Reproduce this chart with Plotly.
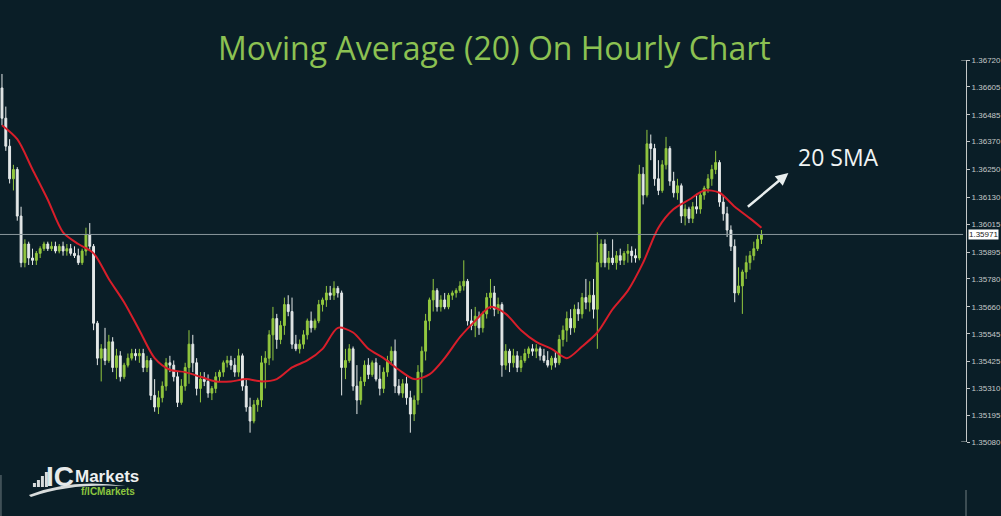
import plotly.graph_objects as go

# hourly candles (index = bar number), prices
hour = list(range(200))

open_ = [
    1.3660, 1.3647, 1.3635, 1.3621, 1.3625, 1.3605, 1.3585, 1.3593, 1.3587, 1.3586,
    1.3589, 1.3591, 1.3593, 1.3591, 1.3592, 1.3590, 1.3592, 1.3590, 1.3591, 1.3589,
    1.3588, 1.3585, 1.3590, 1.3597, 1.3592, 1.3559, 1.3544, 1.3548, 1.3543, 1.3551,
    1.3540, 1.3545, 1.3536, 1.3541, 1.3544, 1.3546, 1.3545, 1.3546, 1.3540, 1.3543,
    1.3528, 1.3523, 1.3527, 1.3532, 1.3542, 1.3541, 1.3536, 1.3525, 1.3532, 1.3540,
    1.3550, 1.3542, 1.3531, 1.3535, 1.3534, 1.3529, 1.3531, 1.3536, 1.3538, 1.3542,
    1.3543, 1.3541, 1.3538, 1.3545, 1.3532, 1.3523, 1.3517, 1.3524, 1.3526, 1.3542,
    1.3544, 1.3554, 1.3561, 1.3552, 1.3558, 1.3567, 1.3564, 1.3550, 1.3548, 1.3550,
    1.3554, 1.3560, 1.3557, 1.3560, 1.3567, 1.3569, 1.3572, 1.3571, 1.3574, 1.3572,
    1.3540, 1.3543, 1.3548, 1.3532, 1.3526, 1.3534, 1.3541, 1.3537, 1.3542, 1.3535,
    1.3531, 1.3538, 1.3543, 1.3547, 1.3532, 1.3529, 1.3533, 1.3527, 1.3520, 1.3526,
    1.3538, 1.3547, 1.3560, 1.3569, 1.3573, 1.3566, 1.3569, 1.3566, 1.3571, 1.3572,
    1.3573, 1.3575, 1.3577, 1.3560, 1.3558, 1.3562, 1.3557, 1.3563, 1.3570, 1.3572,
    1.3565, 1.3567, 1.3541, 1.3547, 1.3542, 1.3545, 1.3540, 1.3543, 1.3546, 1.3548,
    1.3547, 1.3548, 1.3545, 1.3543, 1.3541, 1.3544, 1.3542, 1.3552, 1.3556, 1.3561,
    1.3557, 1.3565, 1.3563, 1.3570, 1.3568, 1.3571, 1.3565, 1.3585, 1.3593, 1.3585,
    1.3587, 1.3585, 1.3588, 1.3586, 1.3589, 1.3590, 1.3588, 1.3587, 1.3623, 1.3614,
    1.3636, 1.3634, 1.3621, 1.3616, 1.3627, 1.3634, 1.3620, 1.3615, 1.3618, 1.3605,
    1.3608, 1.3604, 1.3609, 1.3608, 1.3614, 1.3617, 1.3621, 1.3625, 1.3628, 1.3611,
    1.3606, 1.3599, 1.3592, 1.3572, 1.3575, 1.3581, 1.3585, 1.3588, 1.3591, 1.3595,
]
high = [
    1.3666, 1.3652, 1.3638, 1.3627, 1.3626, 1.3609, 1.3595, 1.3594, 1.3591, 1.3590,
    1.3592, 1.3594, 1.3594, 1.3594, 1.3594, 1.3593, 1.3594, 1.3593, 1.3593, 1.3592,
    1.3591, 1.3591, 1.3600, 1.3602, 1.3593, 1.3560, 1.3550, 1.3557, 1.3554, 1.3553,
    1.3548, 1.3547, 1.3542, 1.3546, 1.3548, 1.3548, 1.3548, 1.3548, 1.3545, 1.3544,
    1.3535, 1.3530, 1.3534, 1.3544, 1.3545, 1.3543, 1.3538, 1.3535, 1.3542, 1.3556,
    1.3554, 1.3544, 1.3538, 1.3538, 1.3537, 1.3532, 1.3538, 1.3539, 1.3543, 1.3545,
    1.3545, 1.3544, 1.3548, 1.3546, 1.3535, 1.3527, 1.3526, 1.3527, 1.3545, 1.3547,
    1.3556, 1.3566, 1.3563, 1.3560, 1.3570, 1.3571, 1.3570, 1.3554, 1.3552, 1.3556,
    1.3561, 1.3564, 1.3561, 1.3569, 1.3570, 1.3575, 1.3575, 1.3577, 1.3575, 1.3573,
    1.3548, 1.3550, 1.3549, 1.3541, 1.3536, 1.3543, 1.3544, 1.3543, 1.3544, 1.3541,
    1.3540, 1.3545, 1.3549, 1.3552, 1.3535, 1.3535, 1.3536, 1.3530, 1.3528, 1.3541,
    1.3549, 1.3563, 1.3570, 1.3578, 1.3574, 1.3571, 1.3572, 1.3572, 1.3573, 1.3574,
    1.3577, 1.3586, 1.3578, 1.3565, 1.3566, 1.3564, 1.3564, 1.3572, 1.3578, 1.3575,
    1.3570, 1.3568, 1.3550, 1.3548, 1.3548, 1.3547, 1.3545, 1.3548, 1.3549, 1.3550,
    1.3550, 1.3549, 1.3548, 1.3547, 1.3545, 1.3547, 1.3554, 1.3558, 1.3564, 1.3565,
    1.3567, 1.3568, 1.3572, 1.3578, 1.3577, 1.3578, 1.3598, 1.3595, 1.3595, 1.3590,
    1.3595, 1.3590, 1.3591, 1.3590, 1.3593, 1.3592, 1.3591, 1.3627, 1.3626, 1.3642,
    1.3640, 1.3636, 1.3629, 1.3629, 1.3639, 1.3635, 1.3624, 1.3621, 1.3619, 1.3610,
    1.3609, 1.3611, 1.3614, 1.3615, 1.3618, 1.3623, 1.3627, 1.3633, 1.3629, 1.3614,
    1.3609, 1.3601, 1.3595, 1.3583, 1.3582, 1.3588, 1.3590, 1.3594, 1.3597, 1.3599,
]
low = [
    1.3644, 1.3633, 1.3619, 1.3616, 1.3603, 1.3583, 1.3583, 1.3584, 1.3584, 1.3584,
    1.3587, 1.3590, 1.3590, 1.3590, 1.3589, 1.3589, 1.3588, 1.3588, 1.3588, 1.3587,
    1.3584, 1.3584, 1.3588, 1.3590, 1.3556, 1.3541, 1.3534, 1.3541, 1.3542, 1.3538,
    1.3535, 1.3534, 1.3535, 1.3540, 1.3543, 1.3543, 1.3542, 1.3538, 1.3538, 1.3526,
    1.3521, 1.3520, 1.3525, 1.3530, 1.3538, 1.3534, 1.3523, 1.3524, 1.3530, 1.3533,
    1.3538, 1.3528, 1.3525, 1.3532, 1.3527, 1.3526, 1.3529, 1.3534, 1.3536, 1.3540,
    1.3539, 1.3536, 1.3536, 1.3530, 1.3521, 1.3512, 1.3516, 1.3521, 1.3523, 1.3531,
    1.3541, 1.3543, 1.3548, 1.3550, 1.3554, 1.3562, 1.3548, 1.3547, 1.3546, 1.3548,
    1.3552, 1.3555, 1.3556, 1.3559, 1.3564, 1.3566, 1.3569, 1.3569, 1.3570, 1.3528,
    1.3535, 1.3542, 1.3530, 1.3520, 1.3524, 1.3532, 1.3535, 1.3536, 1.3534, 1.3528,
    1.3529, 1.3536, 1.3541, 1.3529, 1.3528, 1.3527, 1.3524, 1.3512, 1.3517, 1.3524,
    1.3529, 1.3543, 1.3556, 1.3564, 1.3564, 1.3564, 1.3565, 1.3565, 1.3569, 1.3570,
    1.3572, 1.3573, 1.3558, 1.3556, 1.3553, 1.3554, 1.3555, 1.3561, 1.3565, 1.3562,
    1.3563, 1.3536, 1.3539, 1.3538, 1.3540, 1.3538, 1.3538, 1.3542, 1.3544, 1.3545,
    1.3544, 1.3543, 1.3542, 1.3540, 1.3539, 1.3540, 1.3541, 1.3549, 1.3551, 1.3554,
    1.3555, 1.3560, 1.3561, 1.3565, 1.3564, 1.3561, 1.3548, 1.3583, 1.3583, 1.3582,
    1.3584, 1.3582, 1.3584, 1.3584, 1.3585, 1.3585, 1.3585, 1.3586, 1.3610, 1.3613,
    1.3629, 1.3618, 1.3614, 1.3615, 1.3625, 1.3618, 1.3613, 1.3612, 1.3602, 1.3601,
    1.3602, 1.3602, 1.3606, 1.3606, 1.3612, 1.3615, 1.3618, 1.3623, 1.3609, 1.3603,
    1.3596, 1.3590, 1.3568, 1.3571, 1.3563, 1.3578, 1.3582, 1.3586, 1.3590, 1.3593,
]
close = [
    1.3647, 1.3635, 1.3621, 1.3625, 1.3605, 1.3585, 1.3593, 1.3587, 1.3586, 1.3589,
    1.3591, 1.3593, 1.3591, 1.3592, 1.3590, 1.3592, 1.3590, 1.3591, 1.3589, 1.3588,
    1.3585, 1.3590, 1.3597, 1.3592, 1.3559, 1.3544, 1.3548, 1.3543, 1.3551, 1.3540,
    1.3545, 1.3536, 1.3541, 1.3544, 1.3546, 1.3545, 1.3546, 1.3540, 1.3543, 1.3528,
    1.3523, 1.3527, 1.3532, 1.3542, 1.3541, 1.3536, 1.3525, 1.3532, 1.3540, 1.3550,
    1.3542, 1.3531, 1.3535, 1.3534, 1.3529, 1.3531, 1.3536, 1.3538, 1.3542, 1.3543,
    1.3541, 1.3538, 1.3545, 1.3532, 1.3523, 1.3517, 1.3524, 1.3526, 1.3542, 1.3544,
    1.3554, 1.3561, 1.3552, 1.3558, 1.3567, 1.3564, 1.3550, 1.3548, 1.3550, 1.3554,
    1.3560, 1.3557, 1.3560, 1.3567, 1.3569, 1.3572, 1.3571, 1.3574, 1.3572, 1.3540,
    1.3543, 1.3548, 1.3532, 1.3526, 1.3534, 1.3541, 1.3537, 1.3542, 1.3535, 1.3531,
    1.3538, 1.3543, 1.3547, 1.3532, 1.3529, 1.3533, 1.3527, 1.3520, 1.3526, 1.3538,
    1.3547, 1.3560, 1.3569, 1.3573, 1.3566, 1.3569, 1.3566, 1.3571, 1.3572, 1.3573,
    1.3575, 1.3577, 1.3560, 1.3558, 1.3562, 1.3557, 1.3563, 1.3570, 1.3572, 1.3565,
    1.3567, 1.3541, 1.3547, 1.3542, 1.3545, 1.3540, 1.3543, 1.3546, 1.3548, 1.3547,
    1.3548, 1.3545, 1.3543, 1.3541, 1.3544, 1.3542, 1.3552, 1.3556, 1.3561, 1.3557,
    1.3565, 1.3563, 1.3570, 1.3568, 1.3571, 1.3565, 1.3585, 1.3593, 1.3585, 1.3587,
    1.3585, 1.3588, 1.3586, 1.3589, 1.3590, 1.3588, 1.3587, 1.3623, 1.3614, 1.3636,
    1.3634, 1.3621, 1.3616, 1.3627, 1.3634, 1.3620, 1.3615, 1.3618, 1.3605, 1.3608,
    1.3604, 1.3609, 1.3608, 1.3614, 1.3617, 1.3621, 1.3625, 1.3628, 1.3611, 1.3606,
    1.3599, 1.3592, 1.3572, 1.3575, 1.3581, 1.3585, 1.3588, 1.3591, 1.3595, 1.35971,
]

# 20-period SMA, read every 4th bar
sma_idx = [0, 4, 8, 12, 16, 20, 24, 28, 32, 36, 40, 44, 48, 52, 56, 60, 64, 68, 72, 76,
           80, 84, 88, 92, 96, 100, 104, 108, 112, 116, 120, 124, 128, 132, 136, 140,
           144, 148, 152, 156, 160, 164, 168, 172, 176, 180, 184, 188, 192, 196, 199]
sma20 = [1.3644, 1.3638, 1.3625, 1.3612, 1.3598, 1.3593, 1.3589, 1.3578, 1.3568, 1.3556,
         1.3544, 1.3539, 1.3538, 1.3536, 1.3534, 1.3534, 1.3535, 1.3534, 1.3535, 1.3540,
         1.3543, 1.3548, 1.3557, 1.3555, 1.3548, 1.3544, 1.3539, 1.3535, 1.3537, 1.3544,
         1.3553, 1.3560, 1.3566, 1.3563, 1.3556, 1.3551, 1.3548, 1.3544, 1.3549, 1.3555,
         1.3565, 1.3573, 1.3585, 1.3600, 1.3608, 1.3612, 1.3616, 1.3615, 1.3609, 1.3604,
         1.3600]

price_ticks = [1.36720, 1.36605, 1.36485, 1.36370, 1.36250, 1.36130, 1.36015, 1.35895,
               1.35780, 1.35660, 1.35545, 1.35425, 1.35310, 1.35195, 1.35080]
last_price = 1.35971

BG = "#0a1e27"
BULL = "#93c83f"
BEAR = "#e4e8e8"
AXIS = "#c4c8c8"

W, H = 1001, 516
ML, MR, MT, MB = 0, 33, 60, 74
PW, PH = W - ML - MR, H - MT - MB


def px(x):
    return (x - ML) / PW


def py(y):
    return (H - MB - y) / PH


def label(x, y, text, **font):
    fig.add_annotation(xref="paper", yref="paper", x=px(x), y=py(y), text=text, showarrow=False,
                       xanchor="center", yanchor="middle", font=font)


fig = go.Figure()
fig.add_trace(go.Candlestick(
    x=hour, open=open_, high=high, low=low, close=close,
    increasing=dict(line=dict(color=BULL, width=1), fillcolor=BULL),
    decreasing=dict(line=dict(color=BEAR, width=1), fillcolor=BEAR),
    whiskerwidth=0, showlegend=False, hoverinfo="skip",
))
fig.add_trace(go.Scatter(
    x=sma_idx, y=sma20, mode="lines",
    line=dict(color="#d81e2a", width=2, shape="spline", smoothing=0.8),
    showlegend=False, hoverinfo="skip",
))

# current price line + label
fig.add_shape(type="line", xref="paper", yref="y", x0=0, x1=0.997, y0=last_price, y1=last_price,
              line=dict(color="#8a979c", width=1))
fig.add_annotation(xref="paper", yref="y", x=1.002, y=last_price, xanchor="left", yanchor="middle",
                   text=f"{last_price:.5f}", showarrow=False, bgcolor="#ffffff",
                   font=dict(family="Liberation Sans", size=8, color="#1a1a1a"), borderpad=0)

# axis end hooks
for yv in (price_ticks[0], price_ticks[-1]):
    fig.add_shape(type="line", xref="paper", yref="y", x0=0.995, x1=1.0, y0=yv, y1=yv,
                  line=dict(color=AXIS, width=1))

# "20 SMA" callout
fig.add_annotation(xref="paper", yref="paper", x=px(790), y=py(173), ax=748 - 790, ay=208 - 173,
                   axref="pixel", ayref="pixel", showarrow=True, arrowhead=2, arrowsize=1,
                   arrowwidth=2.5, arrowcolor="#e8eeee", text="")
label(840, 157, "20 SMA", family="Open Sans", size=23, color="#f0f4f4")

# title
label(496, 47, "Moving Average (20) On Hourly Chart", family="Open Sans", size=32, color="#8cc152")

# logo
for x0, y0 in [(33, 483), (37, 480), (41, 476), (45, 472)]:
    fig.add_shape(type="rect", xref="paper", yref="paper", x0=px(x0), x1=px(x0 + 3),
                  y0=py(487), y1=py(y0), line=dict(width=0), fillcolor="#d8dcdc")
fig.add_shape(type="path", xref="paper", yref="paper",
              path=f"M {px(29)},{py(495)} Q {px(70)},{py(478)} {px(126)},{py(486)} "
                   f"Q {px(70)},{py(483)} {px(31)},{py(497)} Z",
              line=dict(width=0), fillcolor="#d8dcdc")
label(60, 476, "<b>IC</b>", family="Liberation Sans", size=28, color="#e6e9e9")
label(107, 477, "<b>Markets</b>", family="Liberation Sans", size=17, color="#eef0f0")
label(108, 491, "<b>f/ICMarkets</b>", family="Liberation Sans", size=10, color="#8cc63f")

# window frame bits
fig.add_shape(type="line", xref="paper", yref="paper", x0=0.001, x1=0.001, y0=py(475), y1=py(516),
              line=dict(color="#6f7c80", width=1))
fig.add_shape(type="line", xref="paper", yref="paper", x0=1.0, x1=1.0, y0=py(490), y1=py(516),
              line=dict(color="#6f7c80", width=1))

fig.update_layout(
    width=W, height=H,
    margin=dict(l=ML, r=MR, t=MT, b=MB),
    paper_bgcolor=BG, plot_bgcolor=BG,
    xaxis=dict(range=[-0.52, 252.6], visible=False, rangeslider=dict(visible=False), fixedrange=True),
    yaxis=dict(range=[1.3508, 1.3672], side="right", showgrid=False, zeroline=False,
               showline=True, linecolor=AXIS, linewidth=1, fixedrange=True,
               ticks="outside", ticklen=3, tickcolor=AXIS,
               tickvals=price_ticks, ticktext=[f"{v:.5f}" for v in price_ticks],
               tickfont=dict(family="Liberation Sans", size=8, color=AXIS)),
)

fig.write_html("out.html", config={"displayModeBar": False},
               post_script="document.body.style.margin='0';")
